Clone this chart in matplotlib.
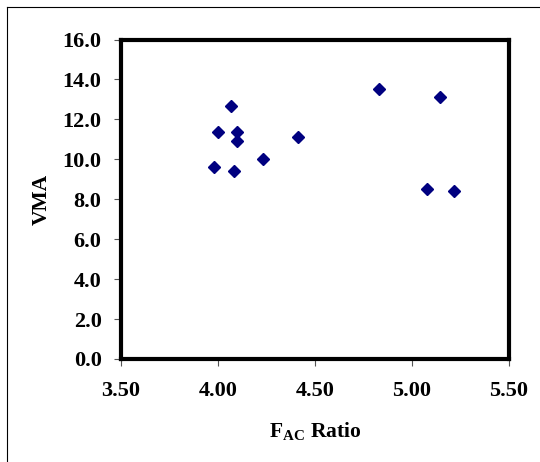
import matplotlib
matplotlib.use("Agg")
import matplotlib.pyplot as plt
from matplotlib.lines import Line2D

# F_AC ratio vs. VMA measurements
fac_ratio = [4.067, 3.998, 4.100, 4.100, 4.414, 4.230, 3.981, 4.082, 4.830, 5.146, 5.077, 5.215]
vma = [12.68, 11.35, 11.35, 10.92, 11.13, 10.00, 9.63, 9.43, 13.54, 13.12, 8.51, 8.43]

x_ticks = [3.5, 4.0, 4.5, 5.0, 5.5]
y_ticks = [0, 2, 4, 6, 8, 10, 12, 14, 16]

plt.rcParams['font.family'] = ['Liberation Serif', 'DejaVu Serif']
plt.rcParams['mathtext.fontset'] = 'custom'
plt.rcParams['mathtext.rm'] = 'Liberation Serif:bold'
plt.rcParams['mathtext.bf'] = 'Liberation Serif:bold'

W, H = 540, 462
fig = plt.figure(figsize=(W / 100, H / 100), dpi=100)
ax = fig.add_axes([121 / W, 1 - 359 / H, (509 - 121) / W, (359 - 39.5) / H])

ax.plot(fac_ratio, vma, linestyle='none', marker='D', markersize=5.8,
        color='#000080', markeredgecolor='#000080')

ax.set_xlim(3.5, 5.5)
ax.set_ylim(0, 16)
ax.set_xticks(x_ticks)
ax.set_xticklabels([f"{v:.2f}" for v in x_ticks])
ax.set_yticks(y_ticks)
ax.set_yticklabels([f"{v:.1f}" for v in y_ticks])

for s in ax.spines.values():
    s.set_linewidth(3.0)
    s.set_color('black')

ax.tick_params(axis='both', direction='out', length=5, width=0.8, color='#555555',
               labelsize=16)
ax.tick_params(axis='y', pad=9)
ax.tick_params(axis='x', pad=11)
for lbl in ax.get_xticklabels() + ax.get_yticklabels():
    lbl.set_fontweight('bold')

ax.set_ylabel('VMA', fontsize=15.5, fontweight='bold', labelpad=8)
ax.set_xlabel(r'F$_{\mathregular{AC}}$ Ratio', fontsize=15.5, fontweight='bold', labelpad=14)

# outer chart frame (left and top edges)
fig.add_artist(Line2D([6.5 / W, 6.5 / W], [0, 1 - 7 / H], transform=fig.transFigure,
                      color='black', linewidth=0.8))
fig.add_artist(Line2D([6.5 / W, 1], [1 - 7 / H, 1 - 7 / H], transform=fig.transFigure,
                      color='black', linewidth=0.8))

fig.savefig('out.png', dpi=100, facecolor='white')
